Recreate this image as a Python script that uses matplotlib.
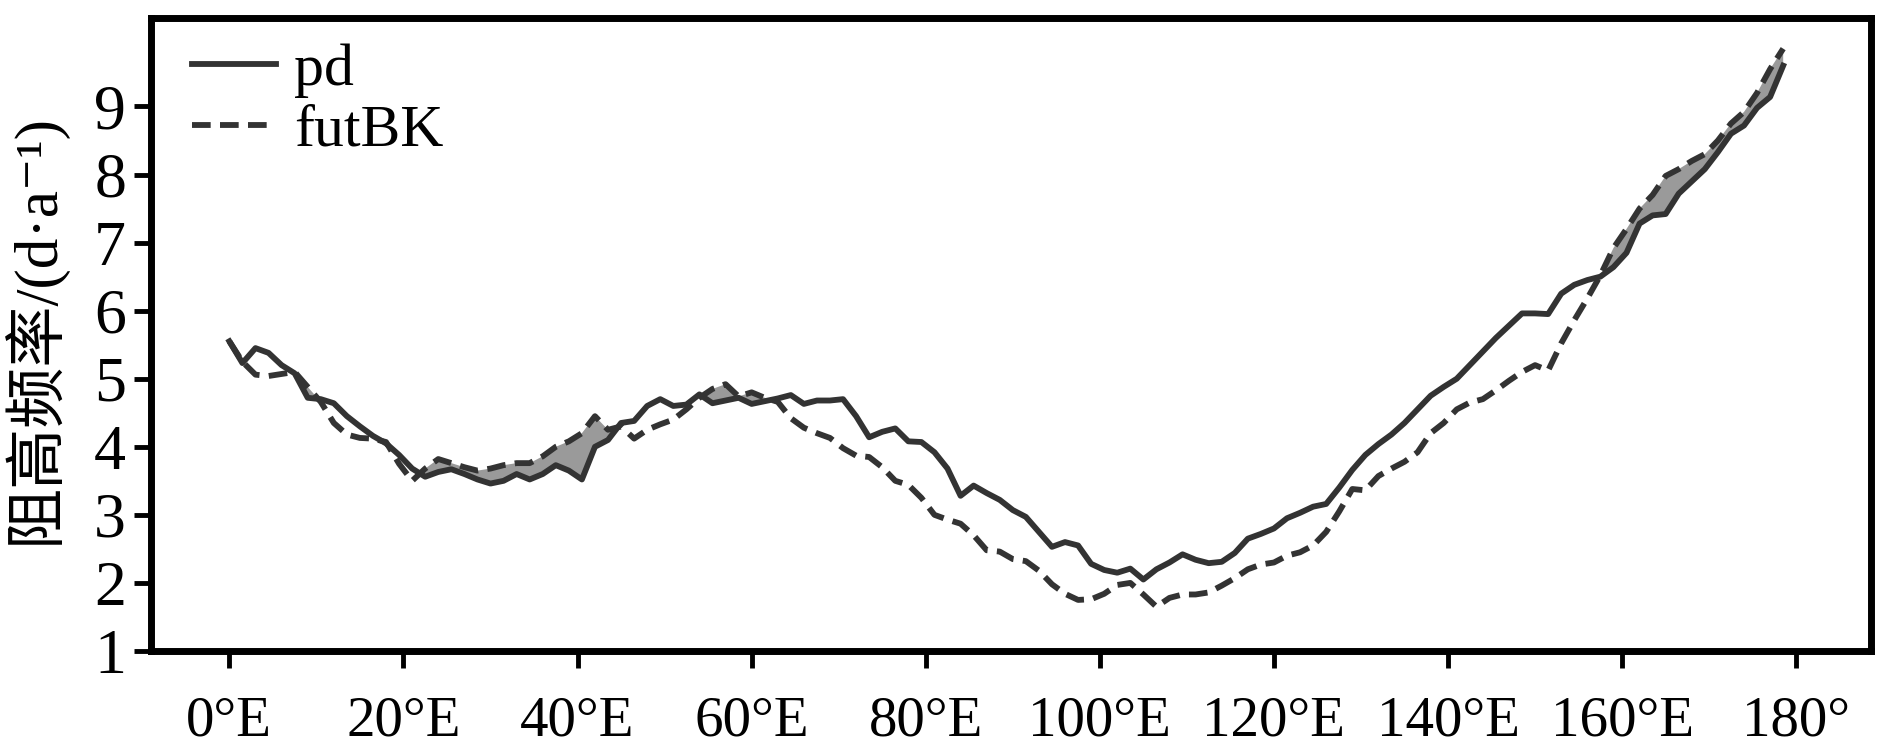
import matplotlib
matplotlib.use("Agg")
import matplotlib.pyplot as plt
import numpy as np

plt.rcParams['font.family'] = ['Liberation Serif', 'Noto Sans CJK SC', 'DejaVu Serif']

# longitude grid (deg E), every 1.5 deg
lon = np.arange(0, 180, 1.5)

# present-day blocking frequency (solid)
pd_freq = np.array([
    5.55, 5.23, 5.45, 5.38, 5.20, 5.08, 4.72, 4.70, 4.64, 4.45,
    4.30, 4.16, 4.05, 3.88, 3.68, 3.56, 3.63, 3.67, 3.60, 3.52,
    3.46, 3.50, 3.60, 3.52, 3.60, 3.73, 3.65, 3.52, 4.00, 4.10,
    4.35, 4.38, 4.60, 4.70, 4.60, 4.62, 4.77, 4.64, 4.68, 4.72,
    4.63, 4.67, 4.71, 4.76, 4.63, 4.68, 4.68, 4.70, 4.45, 4.14,
    4.22, 4.27, 4.08, 4.07, 3.92, 3.68, 3.28, 3.43, 3.32, 3.22,
    3.07, 2.97, 2.75, 2.53, 2.60, 2.55, 2.28, 2.19, 2.15, 2.21,
    2.05, 2.20, 2.30, 2.42, 2.34, 2.29, 2.31, 2.44, 2.65, 2.72,
    2.80, 2.95, 3.03, 3.12, 3.16, 3.40, 3.66, 3.88, 4.04, 4.18,
    4.35, 4.55, 4.75, 4.88, 5.00, 5.20, 5.40, 5.60, 5.78, 5.96,
    5.96, 5.95, 6.25, 6.38, 6.45, 6.50, 6.64, 6.85, 7.28, 7.40,
    7.42, 7.72, 7.90, 8.08, 8.33, 8.60, 8.72, 8.98, 9.14, 9.60,
])

# future (futBK) blocking frequency (dashed)
fut_freq = np.array([
    5.55, 5.25, 5.06, 5.04, 5.07, 5.10, 4.88, 4.66, 4.35, 4.18,
    4.13, 4.12, 4.07, 3.75, 3.50, 3.68, 3.82, 3.76, 3.70, 3.65,
    3.68, 3.73, 3.76, 3.76, 3.86, 4.00, 4.08, 4.20, 4.45, 4.25,
    4.30, 4.12, 4.25, 4.33, 4.40, 4.55, 4.72, 4.85, 4.92, 4.74,
    4.80, 4.72, 4.66, 4.42, 4.28, 4.20, 4.13, 3.98, 3.87, 3.85,
    3.70, 3.50, 3.44, 3.25, 3.00, 2.93, 2.87, 2.70, 2.48, 2.46,
    2.35, 2.32, 2.18, 1.98, 1.84, 1.75, 1.76, 1.84, 1.97, 2.00,
    1.83, 1.65, 1.78, 1.83, 1.83, 1.86, 1.96, 2.07, 2.20, 2.27,
    2.30, 2.40, 2.45, 2.55, 2.75, 3.05, 3.38, 3.36, 3.57, 3.68,
    3.78, 3.92, 4.20, 4.35, 4.55, 4.65, 4.70, 4.83, 4.97, 5.10,
    5.20, 5.12, 5.52, 5.86, 6.18, 6.52, 6.92, 7.20, 7.50, 7.70,
    7.98, 8.08, 8.20, 8.30, 8.50, 8.75, 8.92, 9.20, 9.55, 9.85,
])

xticks = [0, 20, 40, 60, 80, 100, 120, 140, 160, 180]
xticklabels = ['0°E', '20°E', '40°E', '60°E', '80°E', '100°E',
               '120°E', '140°E', '160°E', '180°']
yticks = [1, 2, 3, 4, 5, 6, 7, 8, 9]

line_col = '#333333'

fig = plt.figure(figsize=(18.9, 7.51), dpi=100)
ax = fig.add_axes([0.0799, 0.1332, 0.9101, 0.8428])

# shade where the future frequency is higher
ax.fill_between(lon, pd_freq, fut_freq, where=fut_freq >= pd_freq,
                interpolate=True, color='#9a9a9a', linewidth=0, zorder=1)
ax.plot(lon, pd_freq, color=line_col, lw=4.2, label='pd', zorder=3)
ax.plot(lon, fut_freq, color=line_col, lw=4.2, ls=(0, (3.2, 1.6)),
        label='futBK', zorder=3)

ax.set_xlim(-9, 188.6)
ax.set_ylim(1, 10.3)
ax.set_xticks(xticks)
ax.set_xticklabels(xticklabels)
ax.set_yticks(yticks)

for s in ax.spines.values():
    s.set_linewidth(5)
ax.tick_params(axis='both', direction='out', length=12, width=3.5)
ax.tick_params(axis='y', labelsize=46, pad=6)
ax.tick_params(axis='x', labelsize=41, pad=20)

ax.set_ylabel('阻高频率/(d·a⁻¹)', fontsize=44)
ax.yaxis.set_label_coords(-0.049, 0.51)

ax.legend(loc='upper left', bbox_to_anchor=(0.024, 0.96), frameon=False,
          fontsize=43, handlelength=1.4, handletextpad=0.3,
          labelspacing=0.1, borderpad=0, borderaxespad=0)

fig.savefig('out.png', dpi=100)
